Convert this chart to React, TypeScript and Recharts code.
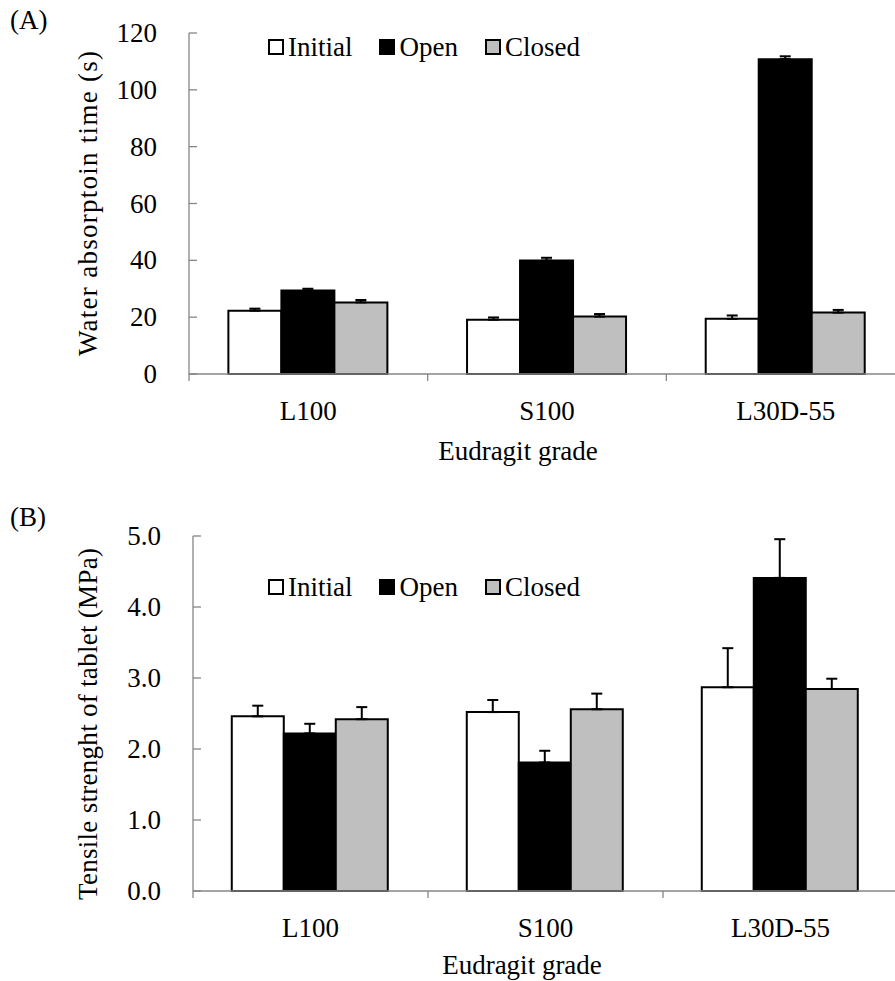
import { BarChart, Bar, XAxis, YAxis, ErrorBar, Legend, Label } from "recharts"

// ── Data ──
const grades = ["L100", "S100", "L30D-55"]
const seriesNames = ["Initial", "Open", "Closed"]

// (A) water absorption time, s
const absInitial = [22.3, 19.1, 19.4]
const absOpen = [29.4, 39.9, 110.8]
const absClosed = [25.2, 20.2, 21.6]
const absInitialSd = [0.7, 0.8, 1.2]
const absOpenSd = [0.6, 1.0, 1.0]
const absClosedSd = [0.85, 0.9, 0.95]
const absTicks = [0, 20, 40, 60, 80, 100, 120]

// (B) tensile strength, MPa
const tsInitial = [2.46, 2.52, 2.87]
const tsOpen = [2.22, 1.81, 4.41]
const tsClosed = [2.42, 2.56, 2.845]
const tsInitialSd = [0.15, 0.17, 0.55]
const tsOpenSd = [0.135, 0.165, 0.545]
const tsClosedSd = [0.17, 0.22, 0.145]
const tsTicks = [0, 1, 2, 3, 4, 5]

// ── Styles ──
const FONT = '"Liberation Serif", "Times New Roman", serif'
const FS = 27
const AXIS = "#868686"
const FILLS: Record<string, string> = { Initial: "#FFFFFF", Open: "#000000", Closed: "#BFBFBF" }
const Y_MARGIN = 32

function buildRows(vals: number[][], sds: number[][]) {
  return grades.map((g, i) => {
    const row: any = { grade: g }
    seriesNames.forEach((s, k) => {
      row[s] = vals[k][i]
      row[s + "Err"] = [0, sds[k][i]]
    })
    return row
  })
}

const absRows = buildRows([absInitial, absOpen, absClosed], [absInitialSd, absOpenSd, absClosedSd])
const tsRows = buildRows([tsInitial, tsOpen, tsClosed], [tsInitialSd, tsOpenSd, tsClosedSd])

// category ticks: labels at centre, tick marks at the category boundaries
function CatTick(props: any) {
  const { x, y, payload, index, visibleTicksCount, width } = props
  const half = payload?.offset ? payload.offset : width / visibleTicksCount / 2
  return (
    <g>
      {index === 0 && <line x1={x - half} x2={x - half} y1={y} y2={y + 7} stroke={AXIS} strokeWidth={1.3} />}
      <line x1={x + half} x2={x + half} y1={y} y2={y + 7} stroke={AXIS} strokeWidth={1.3} />
      <text x={x} y={y + 37} textAnchor="middle" dominantBaseline="central" fontFamily={FONT} fontSize={FS} fill="#000">
        {payload.value}
      </text>
    </g>
  )
}

// value ticks: inward tick marks
const makeValTick = (digits: number) => (props: any) => {
  const { x, y, payload } = props
  return (
    <g>
      <line x1={x + Y_MARGIN} x2={x + Y_MARGIN + 8} y1={y} y2={y} stroke={AXIS} strokeWidth={1.3} />
      <text x={x} y={y} textAnchor="end" dominantBaseline="central" fontFamily={FONT} fontSize={FS} fill="#000">
        {Number(payload.value).toFixed(digits)}
      </text>
    </g>
  )
}

const yTitle = (text: string, len: number, dy: number) => (props: any) => {
  const vb = props.viewBox
  const cx = vb.x + 88
  const cy = vb.y + vb.height / 2 + dy
  return (
    <text x={cx} y={cy} transform={`rotate(-90 ${cx} ${cy})`} textAnchor="middle" dominantBaseline="central"
      textLength={len} lengthAdjust="spacing" fontFamily={FONT} fontSize={FS} fill="#000">
      {text}
    </text>
  )
}

const xTitle = (text: string, dy: number) => (props: any) => {
  const vb = props.viewBox
  return (
    <text x={vb.x + 329} y={vb.y + dy} textAnchor="middle" dominantBaseline="central" fontFamily={FONT} fontSize={FS} fill="#000">
      {text}
    </text>
  )
}

function LegendBox() {
  return (
    <div style={{ display: "flex", fontFamily: FONT, fontSize: FS, lineHeight: "30px", color: "#000", whiteSpace: "nowrap" }}>
      {seriesNames.map((s) => (
        <div key={s} style={{ display: "flex", alignItems: "center", marginRight: 27 }}>
          <span style={{ width: 12, height: 12, border: "2px solid #000", background: FILLS[s], marginRight: 4, display: "inline-block" }} />
          <span>{s}</span>
        </div>
      ))}
    </div>
  )
}

function Panel({ rows, ticks, digits, yLabel, yLen, yDy, xDy, width, height, margin, yWidth, legendTop }: any) {
  return (
    <BarChart width={width} height={height} data={rows} margin={margin} barCategoryGap="16.5%" barGap={0}>
      <XAxis dataKey="grade" height={80} stroke={AXIS} strokeWidth={1.3} tickLine={false} tickSize={0} tickMargin={0}
        tick={<CatTick />} interval={0}>
        <Label content={xTitle("Eudragit grade", xDy)} />
      </XAxis>
      <YAxis width={yWidth} domain={[ticks[0], ticks[ticks.length - 1]]} ticks={ticks} stroke={AXIS} strokeWidth={1.3}
        tickLine={false} tickSize={0} tickMargin={Y_MARGIN} tick={makeValTick(digits)} interval={0}>
        <Label content={yTitle(yLabel, yLen, yDy)} />
      </YAxis>
      <Legend layout="vertical" verticalAlign="middle" align="center" content={() => <LegendBox />}
        wrapperStyle={{ left: 268, top: legendTop, width: 420, height: 30 }} />
      {seriesNames.map((s) => (
        <Bar key={s} dataKey={s} fill={FILLS[s]} stroke="#000" strokeWidth={2} isAnimationActive={false}>
          <ErrorBar dataKey={s + "Err"} direction="y" width={5.5} stroke="#000" strokeWidth={2} />
        </Bar>
      ))}
    </BarChart>
  )
}

export default function App() {
  return (
    <div style={{ position: "absolute", left: 0, top: 0, width: 895, height: 981, overflow: "hidden", background: "#fff" }}>
      <div style={{ position: "absolute", left: 10, top: 4, fontFamily: FONT, fontSize: FS, lineHeight: "32px" }}>(A)</div>
      <div style={{ position: "absolute", left: 10, top: 501, fontFamily: FONT, fontSize: FS, lineHeight: "32px" }}>(B)</div>
      <div style={{ position: "absolute", left: 0, top: 0 }}>
        <Panel rows={absRows} ticks={absTicks} digits={0} yLabel="Water absorptoin time (s)" yLen={305} yDy={0} xDy={77}
          width={920} height={480} margin={{ top: 33, right: 15, bottom: 26, left: 0 }} yWidth={189} legendTop={32} />
      </div>
      <div style={{ position: "absolute", left: 0, top: 480 }}>
        <Panel rows={tsRows} ticks={tsTicks} digits={1} yLabel="Tensile strenght of tablet (MPa)" yLen={352} yDy={10.5} xDy={74}
          width={920} height={501} margin={{ top: 56, right: 22, bottom: 10, left: 0 }} yWidth={193} legendTop={92} />
      </div>
    </div>
  )
}
